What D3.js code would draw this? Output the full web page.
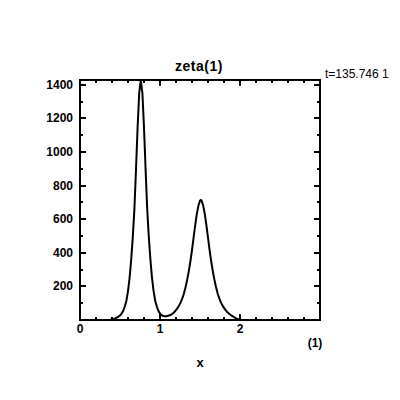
<!DOCTYPE html>
<html><head><meta charset="utf-8">
<script src="https://cdn.jsdelivr.net/npm/d3@7"></script>
<style>body{margin:0;background:#fff}svg{display:block}text{font-family:"Liberation Sans",Arial,sans-serif}</style>
</head><body><svg id="c" width="400" height="400"></svg>
<script>
const xs = [0,0.38,0.40,0.42,0.44,0.46,0.48,0.50,0.52,0.54,0.56,0.58,0.60,0.62,0.64,0.66,0.68,0.70,0.72,0.74,0.76,0.78,0.80,0.82,0.84,0.86,0.88,0.90,0.92,0.94,0.96,0.98,1.00,1.02,1.04,1.06,1.08,1.10,1.12,1.14,1.16,1.18,1.20,1.22,1.24,1.26,1.28,1.30,1.32,1.34,1.36,1.38,1.40,1.42,1.44,1.46,1.48,1.50,1.51,1.52,1.54,1.56,1.58,1.60,1.62,1.64,1.66,1.68,1.70,1.72,1.74,1.76,1.78,1.80,1.82,1.84,1.86,1.88,1.90,1.92,1.94,1.96,1.98,2.00,2.02,3];
const zeta = [0,1,3,6,9,14,20,27,38,55,80,115,172,250,360,495,660,895,1145,1350,1428,1350,1145,895,660,495,360,250,172,115,80,55,38,29,24,22,22,25,28,32,39,48,59,72,87,106,130,159,196,240,291,349,416,490,565,630,680,710,714,710,680,630,565,490,416,349,291,240,196,159,130,106,87,72,59,48,39,31,25,19,13,8,4,2,0,0];
const xTickLabels = [0,1,2];
const yTickLabels = [200,400,600,800,1000,1200,1400];
const title = "zeta(1)";
const timeLabel = "t=135.746 1";
const unitLabel = "(1)";
const xLabel = "x";

const svg = d3.select("#c");
const L=80,R=320,T=80,B=320;
const x = d3.scaleLinear().domain([0,3]).range([L,R]);
const y = d3.scaleLinear().domain([0,d3.max(zeta)]).range([B,T]);

const g = svg.append("g").attr("shape-rendering","crispEdges");
const xMinor = d3.range(0,3.0001,0.2);
const yMinor = d3.range(100,1401,100);
function isMajorX(v){return Math.abs(v-Math.round(v))<1e-6;}
xMinor.forEach(v=>{
  const len = isMajorX(v)?6:3;
  g.append("line").attr("x1",x(v)).attr("x2",x(v)).attr("y1",B).attr("y2",B-len).attr("stroke","#000").attr("stroke-width",2);
  g.append("line").attr("x1",x(v)).attr("x2",x(v)).attr("y1",T).attr("y2",T+len).attr("stroke","#000").attr("stroke-width",2);
});
yMinor.forEach(v=>{
  const len = (v%200===0)?6:3;
  g.append("line").attr("x1",L).attr("x2",L+len).attr("y1",y(v)).attr("y2",y(v)).attr("stroke","#000").attr("stroke-width",2);
  g.append("line").attr("x1",R).attr("x2",R-len).attr("y1",y(v)).attr("y2",y(v)).attr("stroke","#000").attr("stroke-width",2);
});
g.append("rect").attr("x",L).attr("y",T).attr("width",R-L).attr("height",B-T).attr("fill","none").attr("stroke","#000").attr("stroke-width",2);

const line = d3.line().x((d,i)=>x(xs[i])).y(d=>y(d));
svg.append("path").datum(zeta).attr("d",line).attr("fill","none").attr("stroke","#000").attr("stroke-width",2).attr("stroke-linejoin","miter");

svg.selectAll(".xl").data(xTickLabels).enter().append("text")
  .attr("x",d=>x(d)).attr("y",333).attr("text-anchor","middle").attr("font-size",12).attr("font-weight","bold").text(d=>d);
svg.selectAll(".yl").data(yTickLabels).enter().append("text")
  .attr("x",73).attr("y",d=>y(d)+4).attr("text-anchor","end").attr("font-size",12).attr("font-weight","bold").text(d=>d);

svg.append("text").attr("x",199).attr("y",71).attr("text-anchor","middle").attr("font-size",14).attr("font-weight","bold").attr("letter-spacing","0.5px").text(title);
svg.append("text").attr("x",325).attr("y",78).attr("font-size",12).text(timeLabel);
svg.append("text").attr("x",315).attr("y",347).attr("text-anchor","middle").attr("font-size",12).attr("font-weight","bold").text(unitLabel);
svg.append("text").attr("x",200).attr("y",367).attr("text-anchor","middle").attr("font-size",13).attr("font-weight","bold").text(xLabel);
</script></body></html>
